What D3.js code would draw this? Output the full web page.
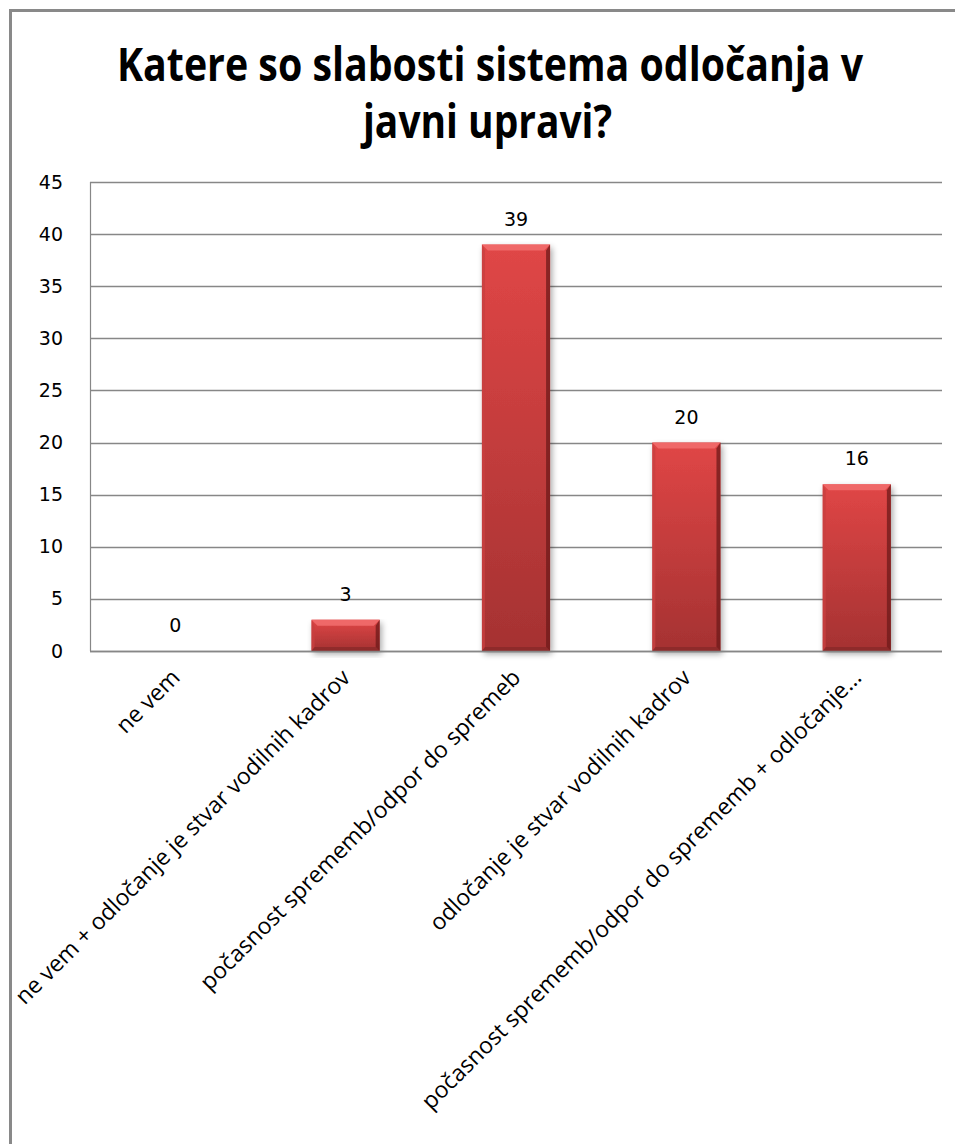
<!DOCTYPE html>
<html lang="sl">

<head>
    <meta charset="UTF-8" />
    <title>Katere so slabosti sistema odločanja v javni upravi?</title>
    <script src="https://d3js.org/d3.v7.min.js"></script>
    <style>
        body {
            margin: 0;
            background: #fff;
        }

        svg {
            display: block;
            background: #fff;
        }

        .axis text {
            font-family: "DejaVu Sans", sans-serif;
            font-size: 19px;
            fill: #000;
        }

        .cat-label {
            font-family: "Open Sans", sans-serif;
            font-size: 23px;
            fill: #000;
        }

        .value-label {
            font-family: "DejaVu Sans", sans-serif;
            font-size: 19px;
            fill: #000;
        }
    </style>
</head>

<body>
    <svg id="chart" width="955" height="1144"></svg>

    <script>
        // data
        const categories = [
            "ne vem",
            "ne vem + odločanje je stvar vodilnih kadrov",
            "počasnost sprememb/odpor do spremeb",
            "odločanje je stvar vodilnih kadrov",
            "počasnost sprememb/odpor do sprememb + odločanje..."
        ];
        const values = [0, 3, 39, 20, 16];
        const yTicks = [0, 5, 10, 15, 20, 25, 30, 35, 40, 45];
        const titleLines = ["Katere so slabosti sistema odločanja v", "javni upravi?"];

        const svg = d3.select("#chart");
        const width = +svg.attr("width");
        const height = +svg.attr("height");

        const plotLeft = 90;
        const plotRight = 942;
        const plotTop = 182;
        const plotBottom = 651;

        const x = d3.scaleBand()
            .domain(categories)
            .range([plotLeft, plotRight])
            .paddingInner(0.6)
            .paddingOuter(0.3);

        const y = d3.scaleLinear()
            .domain([0, 45])
            .range([plotBottom, plotTop]);

        // outer frame (only left and top visible)
        svg.append("line")
            .attr("x1", 9).attr("x2", width)
            .attr("y1", 10.5).attr("y2", 10.5)
            .attr("stroke", "#898989").attr("stroke-width", 3);
        svg.append("line")
            .attr("x1", 10.5).attr("x2", 10.5)
            .attr("y1", 9).attr("y2", height)
            .attr("stroke", "#898989").attr("stroke-width", 3);

        // title
        const titleLen = [746, 249];
        const titleX = [490, 487.5];
        const titleY = [81, 138];
        svg.selectAll(".title")
            .data(titleLines)
            .join("text")
            .attr("class", "title")
            .attr("x", (d, i) => titleX[i])
            .attr("y", (d, i) => titleY[i])
            .attr("text-anchor", "middle")
            .attr("font-family", "'Open Sans', sans-serif")
            .attr("font-weight", "bold")
            .attr("font-size", 46)
            .attr("textLength", (d, i) => titleLen[i])
            .attr("lengthAdjust", "spacingAndGlyphs")
            .text(d => d);

        // defs: gradients + shadow
        const defs = svg.append("defs");
        const grad = defs.append("linearGradient")
            .attr("id", "barGrad")
            .attr("x1", 0).attr("y1", 0).attr("x2", 0).attr("y2", 1);
        grad.append("stop").attr("offset", "0%").attr("stop-color", "#e04646");
        grad.append("stop").attr("offset", "100%").attr("stop-color", "#a53232");

        const shadow = defs.append("filter")
            .attr("id", "shadow")
            .attr("x", "-20%").attr("y", "-10%")
            .attr("width", "150%").attr("height", "130%");
        shadow.append("feGaussianBlur")
            .attr("in", "SourceAlpha").attr("stdDeviation", 3).attr("result", "blur");
        shadow.append("feOffset")
            .attr("in", "blur").attr("dx", 2).attr("dy", 3).attr("result", "off");
        shadow.append("feComponentTransfer")
            .attr("in", "off").attr("result", "soft")
            .append("feFuncA").attr("type", "linear").attr("slope", 0.35);
        const merge = shadow.append("feMerge");
        merge.append("feMergeNode").attr("in", "soft");
        merge.append("feMergeNode").attr("in", "SourceGraphic");

        // gridlines
        const grid = svg.append("g");
        grid.selectAll("line")
            .data(yTicks)
            .join("line")
            .attr("x1", plotLeft).attr("x2", plotRight)
            .attr("y1", d => Math.round(y(d)) + 0.5)
            .attr("y2", d => Math.round(y(d)) + 0.5)
            .attr("stroke", "#878787")
            .attr("stroke-width", 1.5);

        // plot area left edge
        svg.append("line")
            .attr("x1", plotLeft + 0.5).attr("x2", plotLeft + 0.5)
            .attr("y1", y(45)).attr("y2", y(0))
            .attr("stroke", "#878787")
            .attr("stroke-width", 1.2);

        // y axis labels
        const yAxis = d3.axisLeft(y)
            .tickValues(yTicks)
            .tickSize(0)
            .tickPadding(0);
        const yg = svg.append("g")
            .attr("class", "axis")
            .attr("transform", "translate(63,0)")
            .call(yAxis);
        yg.select(".domain").remove();

        // bars
        const bw = x.bandwidth();
        const bars = svg.append("g")
            .selectAll("g")
            .data(categories.map((c, i) => ({ c, v: values[i] })).filter(d => d.v > 0))
            .join("g")
            .attr("transform", d => `translate(${x(d.c)},${y(d.v)})`);

        bars.append("rect")
            .attr("width", bw)
            .attr("height", d => y(0) - y(d.v))
            .attr("fill", "url(#barGrad)")
            .attr("filter", "url(#shadow)");

        // bevel: top highlight, right/left/bottom edges
        const bevel = 6;
        bars.append("path")
            .attr("d", d => `M0,0 H${bw} L${bw - bevel},${bevel} H${bevel} Z`)
            .attr("fill", "#f26e6e")
            .attr("opacity", 0.85);
        bars.append("path")
            .attr("d", d => {
                const h = y(0) - y(d.v);
                return `M${bw},0 V${h} L${bw - 4},${h - 4} V${bevel} Z`;
            })
            .attr("fill", "#6e1a1a")
            .attr("opacity", 0.75);
        bars.append("path")
            .attr("d", d => {
                const h = y(0) - y(d.v);
                return `M0,0 V${h} L3,${h - 3} V${bevel} Z`;
            })
            .attr("fill", "#c84040")
            .attr("opacity", 0.8);
        bars.append("path")
            .attr("d", d => {
                const h = y(0) - y(d.v);
                return `M0,${h} H${bw} L${bw - 4},${h - 4} H3 Z`;
            })
            .attr("fill", "#7e2424")
            .attr("opacity", 0.6);

        // bottom axis line
        svg.append("line")
            .attr("x1", plotLeft).attr("x2", plotRight)
            .attr("y1", Math.round(y(0)) + 0.5).attr("y2", Math.round(y(0)) + 0.5)
            .attr("stroke", "#878787")
            .attr("stroke-width", 1.5);

        // value labels
        svg.append("g")
            .selectAll("text")
            .data(values)
            .join("text")
            .attr("class", "value-label")
            .attr("x", (d, i) => x(categories[i]) + bw / 2)
            .attr("y", d => y(d) - 19)
            .attr("text-anchor", "middle")
            .text(d => d);

        // category labels, rotated -45
        svg.append("g")
            .selectAll("text")
            .data(categories)
            .join("text")
            .attr("class", "cat-label")
            .attr("text-anchor", "end")
            .attr("transform", d => `translate(${x(d) + bw / 2 + 6},${plotBottom + 28}) rotate(-45)`)
            .text(d => d);
    </script>
</body>

</html>
